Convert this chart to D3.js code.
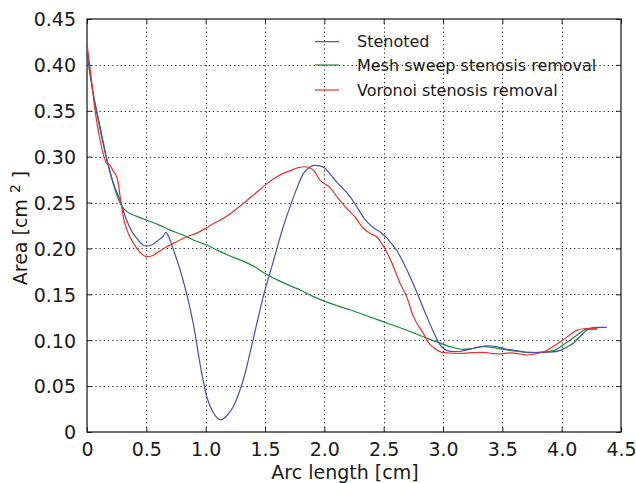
<!DOCTYPE html>
<html>
<head>
<meta charset="utf-8">
<script src="https://cdn.jsdelivr.net/npm/d3@7"></script>
<style>
  html, body { margin: 0; padding: 0; background: #fff; }
  svg text { font-family: "DejaVu Sans", sans-serif; fill: #1a1a1a; }
</style>
</head>
<body>
<svg id="chart" width="636" height="483"></svg>
<script>
// ---- data ----
const xTicks = [0, 0.5, 1.0, 1.5, 2.0, 2.5, 3.0, 3.5, 4.0, 4.5];
const yTicks = [0, 0.05, 0.10, 0.15, 0.20, 0.25, 0.30, 0.35, 0.40, 0.45];
const seriesNames = ["Stenoted", "Mesh sweep stenosis removal", "Voronoi stenosis removal"];
const seriesColors = ["#4252b4", "#1b8c34", "#e8312b"];

const stenotedX = [0, 0.05, 0.11, 0.17, 0.22, 0.28, 0.33, 0.38, 0.42, 0.47, 0.50, 0.55, 0.60, 0.64, 0.665, 0.68, 0.73, 0.80, 0.85, 0.90, 0.95, 1.01, 1.06, 1.10, 1.13, 1.18, 1.23, 1.29, 1.32, 1.40, 1.49, 1.57, 1.65, 1.71, 1.77, 1.82, 1.87, 1.92, 1.96, 2.00, 2.05, 2.10, 2.16, 2.22, 2.28, 2.34, 2.40, 2.47, 2.53, 2.58, 2.61, 2.66, 2.72, 2.78, 2.85, 2.92, 2.97, 3.03, 3.10, 3.15, 3.25, 3.37, 3.45, 3.51, 3.60, 3.70, 3.80, 3.90, 3.99, 4.05, 4.10, 4.17, 4.24, 4.30, 4.38];
const stenotedY = [0.415, 0.370, 0.330, 0.295, 0.272, 0.252, 0.232, 0.218, 0.211, 0.204, 0.2026, 0.204, 0.209, 0.213, 0.2175, 0.215, 0.198, 0.170, 0.145, 0.115, 0.076, 0.038, 0.022, 0.015, 0.0135, 0.018, 0.027, 0.046, 0.058, 0.101, 0.150, 0.186, 0.222, 0.245, 0.266, 0.281, 0.288, 0.2905, 0.290, 0.288, 0.281, 0.273, 0.265, 0.256, 0.244, 0.232, 0.224, 0.218, 0.211, 0.203, 0.198, 0.186, 0.170, 0.152, 0.130, 0.109, 0.096, 0.089, 0.0875, 0.088, 0.091, 0.094, 0.093, 0.091, 0.089, 0.087, 0.0865, 0.087, 0.089, 0.093, 0.097, 0.106, 0.113, 0.114, 0.114];

const meshX = [0, 0.05, 0.11, 0.17, 0.22, 0.28, 0.32, 0.36, 0.42, 0.50, 0.60, 0.70, 0.81, 0.90, 1.01, 1.10, 1.20, 1.30, 1.40, 1.50, 1.60, 1.70, 1.80, 1.90, 2.01, 2.10, 2.22, 2.35, 2.50, 2.65, 2.83, 2.95, 3.06, 3.17, 3.25, 3.34, 3.43, 3.51, 3.62, 3.73, 3.83, 3.93, 4.01, 4.07, 4.13, 4.21, 4.30];
const meshY = [0.412, 0.371, 0.333, 0.296, 0.271, 0.249, 0.242, 0.238, 0.235, 0.231, 0.226, 0.220, 0.2146, 0.209, 0.2037, 0.198, 0.192, 0.187, 0.181, 0.1728, 0.166, 0.160, 0.1545, 0.148, 0.142, 0.138, 0.1329, 0.127, 0.120, 0.113, 0.104, 0.098, 0.093, 0.090, 0.091, 0.093, 0.092, 0.090, 0.088, 0.0864, 0.087, 0.0886, 0.0948, 0.100, 0.1057, 0.1119, 0.112];

const voronoiX = [0, 0.03, 0.067, 0.11, 0.166, 0.19, 0.21, 0.222, 0.24, 0.264, 0.278, 0.306, 0.334, 0.362, 0.42, 0.47, 0.503, 0.55, 0.60, 0.672, 0.75, 0.84, 0.93, 1.009, 1.08, 1.149, 1.23, 1.317, 1.40, 1.50, 1.58, 1.654, 1.72, 1.78, 1.837, 1.88, 1.907, 1.963, 2.05, 2.12, 2.20, 2.26, 2.328, 2.39, 2.441, 2.50, 2.56, 2.638, 2.694, 2.75, 2.834, 2.88, 2.92, 2.96, 3.00, 3.08, 3.17, 3.25, 3.34, 3.42, 3.48, 3.56, 3.65, 3.705, 3.78, 3.87, 3.94, 4.01, 4.07, 4.13, 4.20, 4.24, 4.30];
const voronoiY = [0.423, 0.392, 0.351, 0.318, 0.2927, 0.291, 0.287, 0.284, 0.281, 0.271, 0.258, 0.2345, 0.221, 0.2127, 0.200, 0.193, 0.191, 0.192, 0.196, 0.2019, 0.207, 0.2127, 0.217, 0.2226, 0.228, 0.2328, 0.240, 0.249, 0.258, 0.269, 0.2765, 0.2818, 0.285, 0.288, 0.289, 0.2875, 0.2854, 0.2745, 0.266, 0.254, 0.242, 0.234, 0.222, 0.216, 0.2127, 0.202, 0.187, 0.162, 0.1474, 0.126, 0.1075, 0.097, 0.092, 0.0885, 0.0864, 0.0858, 0.0857, 0.0865, 0.0868, 0.0855, 0.085, 0.0862, 0.085, 0.0839, 0.085, 0.0886, 0.094, 0.1002, 0.106, 0.111, 0.1128, 0.113, 0.113];

// ---- layout ----
const L = 87, T = 19, R = 621, B = 432;
const svg = d3.select("#chart");
const x = d3.scaleLinear().domain([0, 4.5]).range([L, R]);
const y = d3.scaleLinear().domain([0, 0.45]).range([B, T]);

const fmtX = d => d === 0 ? "0" : d.toFixed(1);
const fmtY = d => d === 0 ? "0" : d.toFixed(2);

// grid
const grid = svg.append("g").attr("stroke", "#222").attr("stroke-width", 1).attr("stroke-dasharray", "1.2,3");
grid.selectAll(".gx").data(xTicks.filter(d => d > 0 && d < 4.5)).enter().append("line")
  .attr("x1", d => Math.round(x(d)) + 0.5).attr("x2", d => Math.round(x(d)) + 0.5)
  .attr("y1", T).attr("y2", B);
grid.selectAll(".gy").data(yTicks.filter(d => d > 0 && d < 0.45)).enter().append("line")
  .attr("y1", d => Math.round(y(d)) + 0.5).attr("y2", d => Math.round(y(d)) + 0.5)
  .attr("x1", L).attr("x2", R);

// axes (inward ticks on all four sides)
const axB = svg.append("g").attr("transform", `translate(0,${B})`)
  .call(d3.axisBottom(x).tickValues(xTicks).tickFormat(fmtX).tickSizeInner(-5).tickSizeOuter(0).tickPadding(10));
const axT = svg.append("g").attr("transform", `translate(0,${T})`)
  .call(d3.axisTop(x).tickValues(xTicks).tickFormat("").tickSizeInner(-5).tickSizeOuter(0));
const axL = svg.append("g").attr("transform", `translate(${L},0)`)
  .call(d3.axisLeft(y).tickValues(yTicks).tickFormat(fmtY).tickSizeInner(-5).tickSizeOuter(0).tickPadding(11));
const axR = svg.append("g").attr("transform", `translate(${R},0)`)
  .call(d3.axisRight(y).tickValues(yTicks).tickFormat("").tickSizeInner(-5).tickSizeOuter(0));
[axB, axT, axL, axR].forEach(a => {
  a.select(".domain").remove();
  a.selectAll("line").attr("stroke", "#222").attr("stroke-width", 1);
  a.selectAll("text").attr("font-size", 19).attr("font-family", "DejaVu Sans").attr("fill", "#1a1a1a");
});
axB.selectAll("text").attr("dy", "0.72em");
axL.selectAll("text").attr("dy", "0.36em");

// frame
svg.append("rect").attr("x", L).attr("y", T).attr("width", R - L).attr("height", B - T)
  .attr("fill", "none").attr("stroke", "#222").attr("stroke-width", 1.3);

// lines
const series = [
  { xs: stenotedX, ys: stenotedY },
  { xs: meshX, ys: meshY },
  { xs: voronoiX, ys: voronoiY }
];
const line = d3.line().x(d => x(d[0])).y(d => y(d[1])).curve(d3.curveMonotoneX);
const drawOrder = [1, 0, 2];
drawOrder.forEach(i => {
  const s = series[i];
  const pts = s.xs.map((v, k) => [v, s.ys[k]]);
  svg.append("path").datum(pts).attr("d", line)
    .attr("fill", "none").attr("stroke", seriesColors[i]).attr("stroke-width", 1.2)
    .attr("stroke-linejoin", "round");
});

// legend
const leg = svg.append("g");
seriesNames.forEach((name, i) => {
  const ly = [41.7, 65, 90][i];
  leg.append("line").attr("x1", 315).attr("x2", 339).attr("y1", ly).attr("y2", ly)
    .attr("stroke", seriesColors[i]).attr("stroke-width", 1.2);
  leg.append("text").attr("x", 357).attr("y", ly + 5.5).attr("font-size", 16).text(name);
});

// axis labels
svg.append("text").attr("x", 345).attr("y", 479).attr("text-anchor", "middle")
  .attr("font-size", 19).text("Arc length [cm]");
const yl = svg.append("text").attr("transform", "translate(27,228) rotate(-90)")
  .attr("text-anchor", "middle").attr("font-size", 19);
yl.append("tspan").text("Area [cm ");
yl.append("tspan").attr("font-size", 14).attr("dy", -7).text("2");
yl.append("tspan").attr("dy", 7).text(" ]");
</script>
</body>
</html>
